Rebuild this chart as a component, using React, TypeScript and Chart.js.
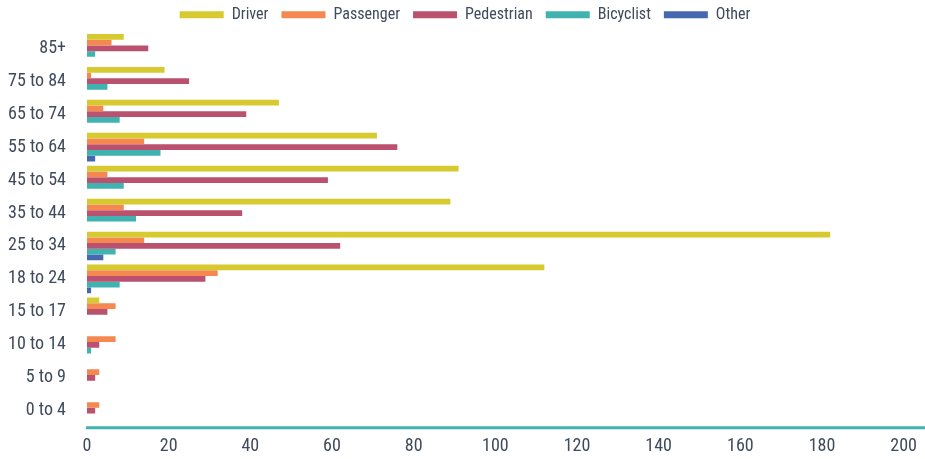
import React, { useEffect, useRef } from "react";
import { Chart, registerables } from "chart.js";

Chart.register(...registerables);

const categories = ["85+", "75 to 84", "65 to 74", "55 to 64", "45 to 54", "35 to 44", "25 to 34", "18 to 24", "15 to 17", "10 to 14", "5 to 9", "0 to 4"];
const driver = [9, 19, 47, 71, 91, 89, 182, 112, 3, 0, 0, 0];
const passenger = [6, 1, 4, 14, 5, 9, 14, 32, 7, 7, 3, 3];
const pedestrian = [15, 25, 39, 76, 59, 38, 62, 29, 5, 3, 2, 2];
const bicyclist = [2, 5, 8, 18, 9, 12, 7, 8, 0, 1, 0, 0];
const other = [0, 0, 0, 2, 0, 0, 4, 1, 0, 0, 0, 0];
const xTicks = [0, 20, 40, 60, 80, 100, 120, 140, 160, 180, 200];

const FONT = "'Roboto Condensed', Roboto, sans-serif";
const TEXT = "#3f4a5a";

const axisLinePlugin = {
  id: "axisLine",
  afterDraw(chart: any) {
    const { ctx, chartArea } = chart;
    ctx.save();
    ctx.strokeStyle = "#40b3b1";
    ctx.lineWidth = 3;
    ctx.beginPath();
    ctx.moveTo(chartArea.left - 1, chartArea.bottom + 0.5);
    ctx.lineTo(chart.width, chartArea.bottom + 0.5);
    ctx.stroke();
    ctx.restore();
  },
};

const legendPlacePlugin = {
  id: "legendPlace",
  beforeInit(chart: any) {
    const legend = chart.legend;
    if (!legend) return;
    const orig = legend.fit;
    legend.fit = function () {
      orig.call(this);
      this.height = 38;
    };
  },
  afterLayout(chart: any) {
    const legend = chart.legend;
    if (!legend) return;
    legend.left = 5;
    legend.right = chart.width;
  },
};

export default function App() {
  const ref = useRef<HTMLCanvasElement>(null);
  useEffect(() => {
    if (!ref.current) return;
    const chart = new Chart(ref.current, {
      type: "bar",
      data: {
        labels: categories,
        datasets: [
          { label: "Driver", data: driver, backgroundColor: "#d7ca30" },
          { label: "Passenger", data: passenger, backgroundColor: "#f58850" },
          { label: "Pedestrian", data: pedestrian, backgroundColor: "#ba516f" },
          { label: "Bicyclist", data: bicyclist, backgroundColor: "#40b3b0" },
          { label: "Other", data: other, backgroundColor: "#4668b0" },
        ],
      },
      options: {
        indexAxis: "y",
        animation: false,
        responsive: false,
        maintainAspectRatio: false,
        layout: { padding: { top: -8, right: 17, bottom: 0, left: 0 } },
        datasets: { bar: { categoryPercentage: 0.87, barPercentage: 1 } },
        plugins: {
          legend: {
            position: "top",
            labels: {
              boxWidth: 44,
              boxHeight: 7,
              padding: 13,
              color: TEXT,
              font: { family: FONT, size: 16 },
            },
          },
          tooltip: { enabled: false },
        },
        scales: {
          x: {
            min: 0,
            max: 200,
            afterBuildTicks: (s: any) => {
              s.ticks = xTicks.map((v) => ({ value: v }));
            },
            afterFit: (s: any) => {
              s.height = 24;
            },
            grid: { display: false, drawTicks: false },
            border: { display: false },
            ticks: { color: TEXT, font: { family: FONT, size: 18 }, padding: 8 },
          },
          y: {
            afterFit: (s: any) => {
              s.width = 87;
            },
            grid: { display: false, drawTicks: false },
            border: { display: false },
            ticks: { color: TEXT, font: { family: FONT, size: 18 }, padding: 21 },
          },
        },
      },
      plugins: [axisLinePlugin, legendPlacePlugin],
    });
    return () => chart.destroy();
  }, []);
  return (
    <div style={{ position: "fixed", left: 0, top: 0, width: 925, height: 459, background: "#fff" }}>
      <canvas ref={ref} width={925} height={459} style={{ width: 925, height: 459 }} />
    </div>
  );
}
